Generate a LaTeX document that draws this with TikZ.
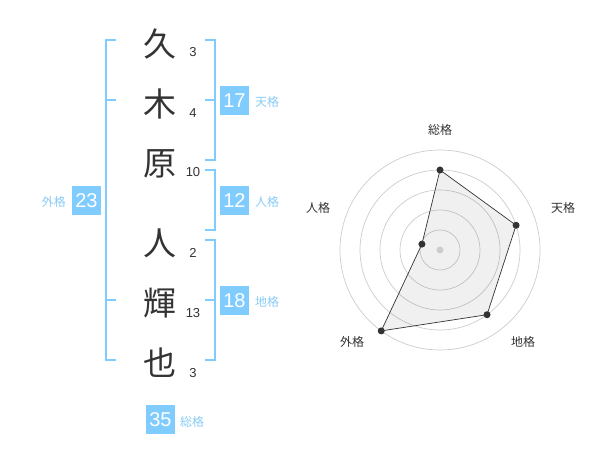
\documentclass[tikz,border=0pt]{standalone}
\usepackage{fontspec}
\setmainfont{Liberation Sans}
\newfontfamily\cjk{Noto Sans CJK JP}
\definecolor{bl}{HTML}{80CCFF}
\definecolor{lbl}{HTML}{88CCF5}
\definecolor{dk}{HTML}{333333}
\begin{document}
\begin{tikzpicture}[x=1pt,y=-1pt,
  kanji/.style={font=\cjk\fontsize{33}{33}\selectfont,text=dk,inner sep=0},
  stroke/.style={font=\fontsize{13}{13}\selectfont,text=dk,inner sep=0},
  numbox/.style={fill=bl,text=white,minimum width=29pt,minimum height=29pt,inner sep=0,font=\fontsize{20}{20}\selectfont},
  kaku/.style={font=\cjk\fontsize{12}{12}\selectfont,text=lbl,inner sep=0},
  rlab/.style={font=\cjk\fontsize{12}{12}\selectfont,text=dk,inner sep=0},
  brk/.style={draw=bl,line width=2pt},
  ring/.style={draw=black!20,line width=0.7pt},
  pt/.style={circle,fill=dk,inner sep=0,minimum size=7pt}]
\useasboundingbox (0,0) rectangle (600,470);
% characters
\node[kanji] (c1) at (160,44) {久};
\node[kanji] (c2) at (160,104) {木};
\node[kanji] (c3) at (160,164) {原};
\node[kanji] (c4) at (160,243) {人};
\node[kanji] (c5) at (160,303) {輝};
\node[kanji] (c6) at (160,363) {也};
\node[stroke] (s1) at (193,52) {3};
\node[stroke] (s2) at (193,113) {4};
\node[stroke] (s3) at (193,172) {10};
\node[stroke] (s4) at (193,253) {2};
\node[stroke] (s5) at (193,313) {13};
\node[stroke] (s6) at (193,373) {3};
% brackets
\draw[brk] (116,40) -- (105.5,40) -- (105.5,360) -- (116,360);
\draw[brk] (105.5,100) -- (116,100);
\draw[brk] (116,300) -- (105.5,300);
\draw[brk] (205,40) -- (215,40) -- (215,160) -- (205,160);
\draw[brk] (205,100) -- (215,100);
\draw[brk] (205,170) -- (215,170) -- (215,230) -- (205,230);
\draw[brk] (205,240) -- (215,240) -- (215,360) -- (205,360);
\draw[brk] (205,300) -- (215,300);
% boxes
\node[numbox] (b17) at (234.5,100.5) {17};
\node[kaku,anchor=west] (k17) at (255,102) {天格};
\node[numbox] (b12) at (234.5,200.5) {12};
\node[kaku,anchor=west] (k12) at (255,202) {人格};
\node[numbox] (b18) at (234.5,300.5) {18};
\node[kaku,anchor=west] (k18) at (255,302) {地格};
\node[numbox] (b23) at (86.5,200.5) {23};
\node[kaku,anchor=east] (k23) at (66,202) {外格};
\node[numbox] (b35) at (160.5,419.5) {35};
\node[kaku,anchor=west] (k35) at (180,422) {総格};
% radar
\coordinate (o) at (440,250);
\foreach \r in {20,40,60,80,100} \draw[ring] (o) circle[radius=\r];
\path (o) ++(0,-80) coordinate (p1);
\path (o) ++(-18:80) coordinate (p2);
\path (o) ++(54:80) coordinate (p3);
\path (o) ++(126:100) coordinate (p4);
\path (o) ++(198:19) coordinate (p5);
\fill[black,fill opacity=0.06] (p1) -- (p2) -- (p3) -- (p4) -- (p5) -- cycle;
\draw[dk,line width=0.7pt] (p1) -- (p2) -- (p3) -- (p4) -- (p5) -- cycle;
\fill[black!20] (o) circle[radius=3.5];
\foreach \p in {p1,p2,p3,p4,p5} \node[pt] at (\p) {};
\node[rlab] (r1) at (440,130) {総格};
\node[rlab] (r2) at (563,208) {天格};
\node[rlab] (r3) at (523,342) {地格};
\node[rlab] (r4) at (352,342) {外格};
\node[rlab] (r5) at (318,208) {人格};
\end{tikzpicture}
\end{document}
